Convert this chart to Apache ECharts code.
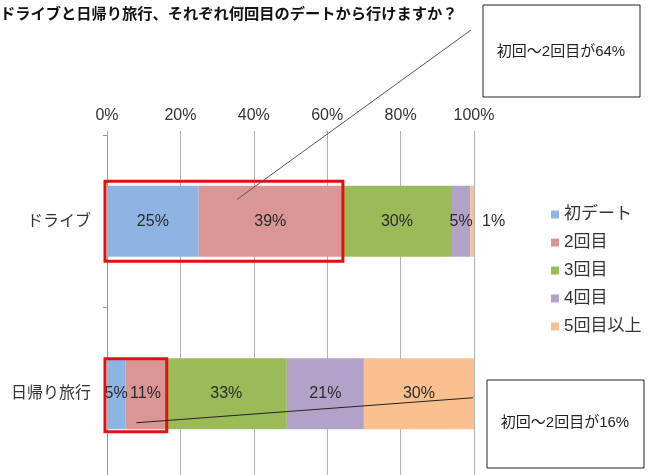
<!DOCTYPE html>
<html><head><meta charset="utf-8">
<script src="https://cdn.jsdelivr.net/npm/echarts@6/dist/echarts.min.js"></script>
<style>html,body{margin:0;padding:0;background:#fff}#c{width:650px;height:475px}</style>
</head><body><div id="c"></div>
<script>
const titleText = 'ドライブと日帰り旅行、それぞれ何回目のデートから行けますか？';
const categories = ['ドライブ', '日帰り旅行'];
const seriesNames = ['初デート', '2回目', '3回目', '4回目', '5回目以上'];
const s1 = [25, 5];
const s2 = [39, 11];
const s3 = [30, 33];
const s4 = [5, 21];
const s5 = [1, 30];
const xTicks = [0, 20, 40, 60, 80, 100];
const note1 = '初回～2回目が64%';
const note2 = '初回～2回目が16%';
const colors = ['#8EB4E3', '#D99694', '#9BBB59', '#B3A2C7', '#FAC090'];
const FONT = '"Liberation Sans", "Noto Sans CJK JP", sans-serif';

const allData = [s1, s2, s3, s4, s5];
const chart = echarts.init(document.getElementById('c'));
const series = allData.map((d, i) => ({
  name: seriesNames[i], type: 'bar', stack: 'a', barWidth: 71,
  itemStyle: { color: colors[i] },
  label: { show: true, position: 'inside', formatter: p => p.value + '%', color: '#2a2a2a', fontSize: 16, fontFamily: FONT },
  data: d.map((v, j) => (i === 4 && j === 0)
    ? { value: v, label: { position: 'right', distance: 8 } }
    : v)
}));

chart.setOption({
  animation: false,
  textStyle: { fontFamily: FONT },
  title: { text: titleText, left: -5, top: 1, textStyle: { fontSize: 15.25, fontWeight: 'bold', color: '#111', fontFamily: '"Noto Sans CJK JP", sans-serif' } },
  legend: {
    orient: 'vertical', left: 546, top: 201, icon: 'rect', itemWidth: 8, itemHeight: 8, itemGap: 11,
    textStyle: { fontSize: 17, color: '#333', fontFamily: FONT }, data: seriesNames
  },
  grid: { left: 107, width: 367, top: 135, height: 345, containLabel: false, outerBoundsMode: 'none' },
  xAxis: {
    type: 'value', position: 'top', min: xTicks[0], max: xTicks[xTicks.length - 1], interval: 20,
    axisLabel: { formatter: '{value}%', fontSize: 16, color: '#333', margin: 11 },
    axisLine: { show: false },
    axisTick: { show: true, length: 4, lineStyle: { color: '#aaa' } },
    splitLine: { lineStyle: { color: '#b0b0b0' } }
  },
  yAxis: {
    type: 'category', inverse: true, data: categories,
    axisLine: { lineStyle: { color: '#999' } },
    axisTick: { show: true, length: 4, lineStyle: { color: '#999' } },
    axisLabel: { fontSize: 16, color: '#333', margin: 16 }
  },
  series: series
});

function px(v, cat) { return chart.convertToPixel({ gridIndex: 0 }, [v, cat]); }
const a0 = px(0, 0), a64 = px(s1[0] + s2[0], 0);
const b0 = px(0, 1), b16 = px(s1[1] + s2[1], 1);
const lineA = px(35.5, 0), lineB1 = px(100, 1), lineB2 = px(8, 1);
const red = { stroke: '#e01010', lineWidth: 3, fill: null };
chart.setOption({
  graphic: [
    { type: 'rect', shape: { x: a0[0] - 2, y: a0[1] - 40, width: a64[0] - a0[0] + 3, height: 80 }, style: red, z: 100 },
    { type: 'rect', shape: { x: b0[0] - 2, y: b0[1] - 35, width: b16[0] - b0[0] + 3, height: 73 }, style: red, z: 100 },
    { type: 'line', shape: { x1: 471, y1: 30, x2: lineA[0], y2: lineA[1] - 22 }, style: { stroke: '#555', lineWidth: 1 }, z: 100 },
    { type: 'line', shape: { x1: lineB1[0] - 1, y1: lineB1[1] + 4, x2: lineB2[0], y2: lineB2[1] + 29 }, style: { stroke: '#222', lineWidth: 1 }, z: 100 },
    { type: 'rect', shape: { x: 483, y: 5, width: 157, height: 92 }, style: { stroke: '#222', lineWidth: 1, fill: '#fff' }, z: 100 },
    { type: 'text', x: 561, y: 52, style: { text: note1, font: '15px ' + FONT, fill: '#222', align: 'center', verticalAlign: 'middle' }, z: 101 },
    { type: 'rect', shape: { x: 487, y: 380, width: 157, height: 88 }, style: { stroke: '#222', lineWidth: 1, fill: '#fff' }, z: 100 },
    { type: 'text', x: 565, y: 423, style: { text: note2, font: '15px ' + FONT, fill: '#222', align: 'center', verticalAlign: 'middle' }, z: 101 }
  ]
});
</script></body></html>
